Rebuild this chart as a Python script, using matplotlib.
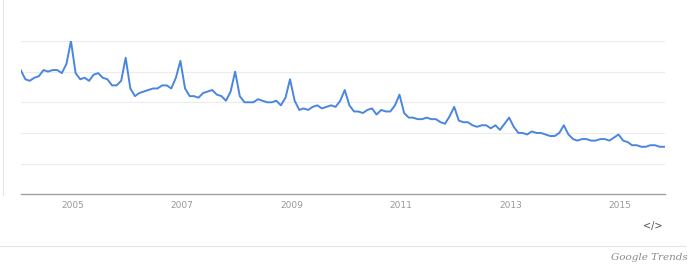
import pandas as pd
import matplotlib.pyplot as plt
from matplotlib.lines import Line2D

# monthly interest, Jan 2004 - Oct 2015
start_month = '2004-01-01'
interest = [
    81, 75, 74, 76, 77, 81, 80, 81, 81, 79, 85, 100,
    79, 75, 76, 74, 78, 79, 76, 75, 71, 71, 74, 89,
    69, 64, 66, 67, 68, 69, 69, 71, 71, 69, 76, 87,
    69, 64, 64, 63, 66, 67, 68, 65, 64, 61, 67, 80,
    64, 60, 60, 60, 62, 61, 60, 60, 61, 58, 63, 75,
    61, 55, 56, 55, 57, 58, 56, 57, 58, 57, 61, 68,
    58, 54, 54, 53, 55, 56, 52, 55, 54, 54, 58, 65,
    53, 50, 50, 49, 49, 50, 49, 49, 47, 46, 51, 57,
    48, 47, 47, 45, 44, 45, 45, 43, 45, 42, 46, 50,
    44, 40, 40, 39, 41, 40, 40, 39, 38, 38, 40, 45,
    39, 36, 35, 36, 36, 35, 35, 36, 36, 35, 37, 39,
    35, 34, 32, 32, 31, 31, 32, 32, 31, 31,
]
year_ticks = ['2005', '2007', '2009', '2011', '2013', '2015']

dates = pd.date_range(start_month, periods=len(interest), freq='MS')
series = pd.Series(interest, index=dates)

fig = plt.figure(figsize=(7, 2.71), dpi=100)
ax = fig.add_axes([0.0296, 0.283, 0.92, 0.566])

ax.plot(series.index, series.values, color='#4a86e0', linewidth=1.4)

ax.set_ylim(0, 100)
ax.set_xlim(pd.Timestamp('2004-01-01'), series.index[-1] + pd.Timedelta(days=4))
ax.set_yticks([20, 40, 60, 80, 100])
ax.yaxis.grid(True, color='#ececec', linewidth=0.8)
ax.set_axisbelow(True)
ax.tick_params(axis='y', left=False, labelleft=False)

# google centres the year labels a little before new year
ax.set_xticks([pd.Timestamp(str(int(y) - 1) + '-12-10') for y in year_ticks])
ax.set_xticklabels(year_ticks)
ax.tick_params(axis='x', length=0, labelsize=6.5, labelcolor='#999999', pad=5)

for side in ['top', 'left', 'right']:
    ax.spines[side].set_visible(False)
ax.spines['bottom'].set_color('#a0a0a0')
ax.spines['bottom'].set_linewidth(1)

# page chrome: left frame edge, footer rule, embed icon, brand
fig.add_artist(Line2D([0.004, 0.004], [0.28, 1.0], color='#e6e6e6', linewidth=0.8))
fig.add_artist(Line2D([0.0, 0.979], [0.092, 0.092], color='#e3e3e3', linewidth=0.8))
fig.text(0.932, 0.166, '</>', fontsize=7, color='#555555', ha='center', va='center')
fig.text(0.982, 0.048, 'Google Trends', fontsize=7.5, color='#8a8a8a', ha='right',
         va='center', family='DejaVu Serif', style='italic')

fig.savefig('out.png', dpi=100)
